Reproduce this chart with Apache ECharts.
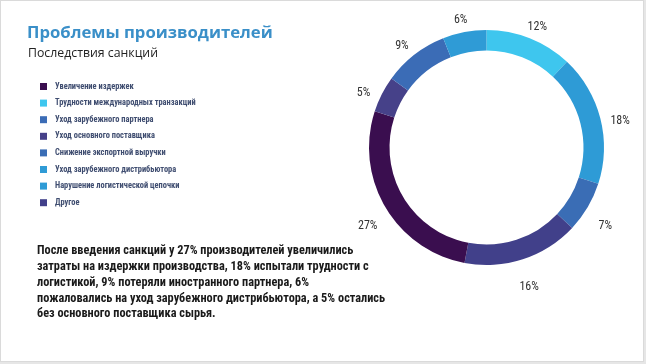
<!DOCTYPE html>
<html>
<head>
<meta charset="utf-8">
<script src="https://cdn.jsdelivr.net/npm/echarts@6/dist/echarts.min.js"></script>
<style>
  html, body { margin: 0; padding: 0; background: #e6e6e6; }
  #frame { position: absolute; left: 0; top: 0; width: 642px; height: 360px; border: 1px solid #dadada; background: #fff; }
  #chart { position: absolute; left: 0; top: 0; width: 646px; height: 364px; }
</style>
</head>
<body>
<div id="frame"></div>
<div id="chart"></div>
<script>
// Slices in clockwise order starting at 12 o'clock
const sliceNames = [
  'Трудности международных транзакций',
  'Нарушение логистической цепочки',
  'Снижение экспортной выручки',
  'Другое',
  'Увеличение издержек',
  'Уход основного поставщика',
  'Уход зарубежного партнера',
  'Уход зарубежного дистрибьютора'
];
const sliceValues = [12, 18, 7, 16, 27, 5, 9, 6];
const sliceColors = ['#3ec6ee', '#2e9bd6', '#3a6db5', '#41408a', '#3a0e4f', '#464189', '#3b6cb6', '#2f9bd6'];
// Legend order as shown
const legendOrder = [
  'Увеличение издержек',
  'Трудности международных транзакций',
  'Уход зарубежного партнера',
  'Уход основного поставщика',
  'Снижение экспортной выручки',
  'Уход зарубежного дистрибьютора',
  'Нарушение логистической цепочки',
  'Другое'
];
const titleText = 'Проблемы производителей';
const subtitleText = 'Последствия санкций';
const bodyText = 'После введения санкций у 27% производителей увеличились\nзатраты на издержки производства, 18% испытали трудности с\nлогистикой, 9% потеряли иностранного партнера, 6%\nпожаловались на уход зарубежного дистрибьютора, а 5% остались\nбез основного поставщика сырья.';

const narrow = '"Roboto Condensed", "Open Sans Condensed", sans-serif';

const chart = echarts.init(document.getElementById('chart'), null, { renderer: 'canvas' });
const pieData = sliceNames.map((n, i) => ({ name: n, value: sliceValues[i], itemStyle: { color: sliceColors[i] } }));

chart.setOption({
  animation: false,
  backgroundColor: 'transparent',
  legend: {
    orient: 'vertical',
    left: 35,
    top: 77,
    icon: 'rect',
    itemWidth: 7,
    itemHeight: 7,
    itemGap: 7.6,
    data: legendOrder,
    textStyle: { fontFamily: narrow, fontSize: 8.4, fontWeight: 'bold', color: '#3f4d70', lineHeight: 9, padding: [0, 0, 0, 3] }
  },
  series: [
    {
      type: 'pie',
      center: [486.5, 147.5],
      radius: [97, 117.5],
      startAngle: 90,
      clockwise: true,
      label: { show: false },
      labelLine: { show: false },
      silent: true,
      data: pieData
    },
    {
      type: 'pie',
      center: [486.5, 155.5],
      radius: [126, 144],
      startAngle: 90,
      clockwise: true,
      silent: true,
      itemStyle: { color: 'rgba(0,0,0,0)' },
      label: {
        show: true,
        position: 'inside',
        formatter: '{c}%',
        fontFamily: narrow,
        fontSize: 12,
        color: '#333'
      },
      labelLine: { show: false },
      data: sliceNames.map((n, i) => ({ name: n, value: sliceValues[i], itemStyle: { color: 'rgba(0,0,0,0)' } }))
    }
  ],
  graphic: [
    {
      type: 'text', left: 27, top: 25,
      style: { text: titleText, fontFamily: '"Open Sans", sans-serif', fontWeight: 'bold', fontSize: 16.7, fill: '#3a8fc8' }
    },
    {
      type: 'text', left: 28, top: 47,
      style: { text: subtitleText, fontFamily: '"Open Sans", sans-serif', fontSize: 12.3, fill: '#222' }
    },
    {
      type: 'text', left: 37, top: 243.5,
      style: { text: bodyText, fontFamily: narrow, fontWeight: 'bold', fontSize: 12.3, lineHeight: 15.75, fill: '#1a1a1a' }
    }
  ]
});
</script>
</body>
</html>
